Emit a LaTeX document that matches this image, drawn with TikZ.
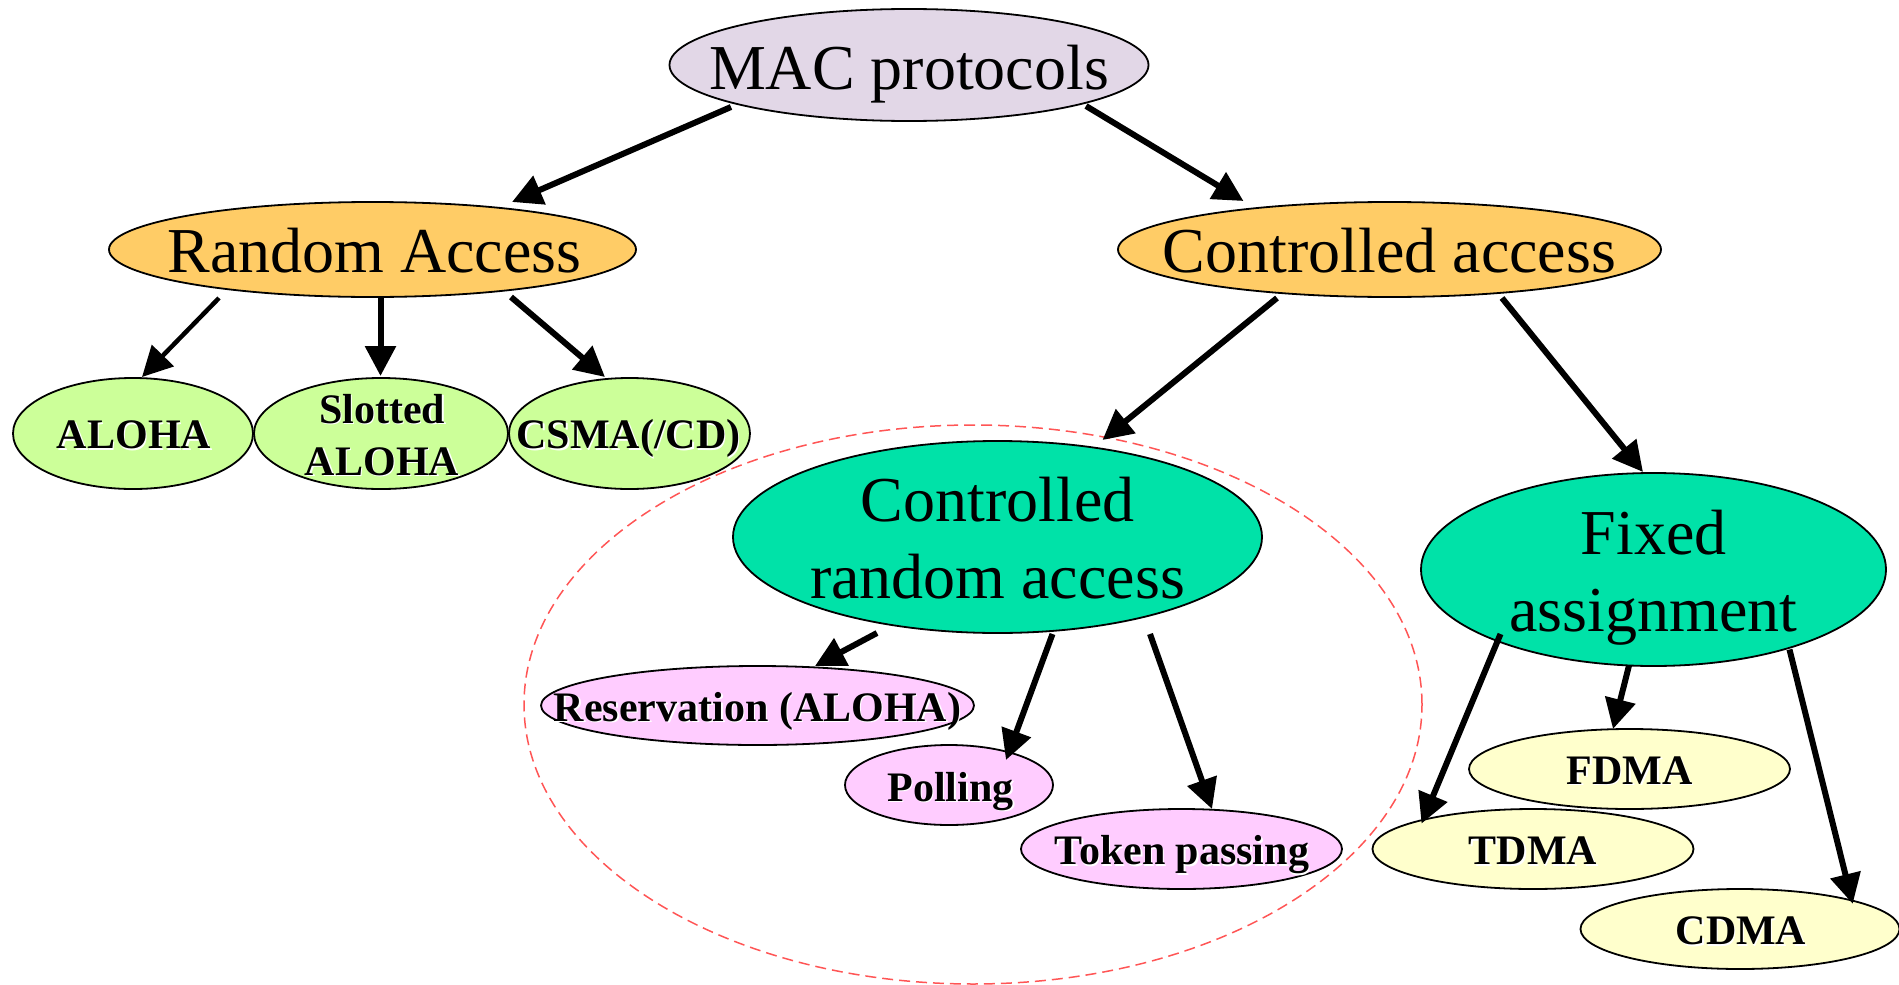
\documentclass[tikz,border=0pt]{standalone}
\usepackage{fontspec}
\setmainfont{Liberation Serif}
\usetikzlibrary{shapes.geometric,arrows.meta,calc}

\definecolor{macfill}{RGB}{226,215,231}
\definecolor{orangefill}{RGB}{255,204,102}
\definecolor{limefill}{RGB}{204,255,153}
\definecolor{tealfill}{RGB}{0,226,168}
\definecolor{pinkfill}{RGB}{255,204,255}
\definecolor{creamfill}{RGB}{255,255,204}
\definecolor{dashred}{RGB}{255,85,85}

% bold label with a thin white drop shadow
\newcommand\embtext[1]{\makebox[0pt][l]{\kern1.5pt\raisebox{-1.5pt}{\textcolor{white}{#1}}}#1}

\begin{document}
\begin{tikzpicture}[x=1pt,y=-1pt,
  oval/.style={ellipse, draw=black, line width=1.8pt, inner sep=0pt},
  bigtext/.style={font=\fontsize{64}{77}\selectfont, align=center, inner sep=0pt, anchor=base},
  smalltext/.style={font=\fontsize{42}{52}\selectfont\bfseries, align=center, inner sep=0pt, anchor=base},
  link/.style={-{Triangle[length=30pt,width=30pt]}, line width=6pt},
]
\useasboundingbox (0,0) rectangle (1899,985);

% top level
\node[oval, fill=macfill, minimum width=479, minimum height=112] (mac) at (909,65) {};
\node[bigtext] (mac-t) at ($(mac)+(0,24)$) {MAC protocols};

% second level
\node[oval, fill=orangefill, minimum width=527, minimum height=95] (ra) at (372.5,249.5) {};
\node[bigtext] (ra-t) at ($(ra)+(2,23)$) {Random Access};
\node[oval, fill=orangefill, minimum width=543, minimum height=95] (ca) at (1389.5,249.5) {};
\node[bigtext] (ca-t) at ($(ca)+(0,23)$) {Controlled access};

% random access family
\node[oval, fill=limefill, minimum width=240, minimum height=111] (aloha) at (133,433.5) {};
\node[smalltext] (aloha-t) at ($(aloha)+(1,15)$) {\embtext{ALOHA}};
\node[oval, fill=limefill, minimum width=254, minimum height=111] (slot) at (381,433.5) {};
\node[smalltext] (slot-t) at ($(slot)+(1,41.5)$) {\embtext{Slotted}\\\embtext{ALOHA}};
\node[oval, fill=limefill, minimum width=241, minimum height=111] (csma) at (629.5,433.5) {};
\node[smalltext] (csma-t) at ($(csma)+(-1,15)$) {\embtext{CSMA(/CD)}};

% controlled random access
\node[oval, fill=tealfill, minimum width=529, minimum height=192] (cra) at (997.5,537) {};
\node[bigtext] (cra-t) at ($(cra)+(0,61)$) {Controlled\\random access};
\node[oval, fill=pinkfill, minimum width=433, minimum height=79] (res) at (757.5,705.5) {};
\node[smalltext] (res-t) at ($(res)+(0,15.5)$) {\embtext{Reservation (ALOHA)}};
\node[oval, fill=pinkfill, minimum width=208, minimum height=80] (poll) at (949,785) {};
\node[smalltext] (poll-t) at ($(poll)+(1.5,16)$) {\embtext{Polling}};
\node[oval, fill=pinkfill, minimum width=321, minimum height=80] (tok) at (1181.5,849) {};
\node[smalltext] (tok-t) at ($(tok)+(0.5,15.5)$) {\embtext{Token passing}};

% fixed assignment
\node[oval, fill=tealfill, minimum width=465, minimum height=193] (fa) at (1653.5,569.5) {};
\node[bigtext] (fa-t) at ($(fa)+(0,61.5)$) {Fixed\\assignment};
\node[oval, fill=creamfill, minimum width=321, minimum height=80] (fdma) at (1629.5,769) {};
\node[smalltext] (fdma-t) at ($(fdma)+(0,15)$) {\embtext{FDMA}};
\node[oval, fill=creamfill, minimum width=321, minimum height=80] (tdma) at (1533,849) {};
\node[smalltext] (tdma-t) at ($(tdma)+(0,15.5)$) {\embtext{TDMA}};
\node[oval, fill=creamfill, minimum width=319, minimum height=80] (cdma) at (1740,929) {};
\node[smalltext] (cdma-t) at ($(cdma)+(1,15.7)$) {\embtext{CDMA}};

% dashed grouping around the controlled random access branch
\node[ellipse, draw=dashred, line width=1.5pt, dash pattern=on 11pt off 6pt,
      minimum width=898, minimum height=559, inner sep=0pt] (group) at (973,704.5) {};

% connectors
\draw[link] ($(mac)+(-178,42)$) -- ($(ra)+(139.5,-47.5)$);
\draw[link] ($(mac)+(177,41)$) -- ($(ca)+(-146,-48.5)$);
\draw[link, line width=4.5pt] ($(ra)+(-153.5,48.5)$) -- ($(aloha)+(9,-56.5)$);
\draw[link] ($(ra)+(8,48.5)$) -- ($(slot)+(-0.5,-57.5)$);
\draw[link] ($(ra)+(138.5,47.5)$) -- ($(csma)+(-24.5,-56.5)$);
\draw[link] ($(ca)+(-112.5,48.5)$) -- ($(cra)+(105,-97)$);
\draw[link] ($(ca)+(112.5,48.5)$) -- ($(fa)+(-10.5,-97.5)$);
\draw[link] ($(cra)+(-120.5,96)$) -- ($(res)+(57.5,-39.5)$);
\draw[link] ($(cra)+(55,97)$) -- ($(poll)+(57,-25)$);
\draw[link] ($(cra)+(152.5,97)$) -- ($(tok)+(30.5,-40)$);
\draw[link] ($(fa)+(-153,64.5)$) -- ($(tdma)+(-111.5,-25.4)$);
\draw[link] ($(fa)+(-24.5,96)$) -- ($(fdma)+(-16.5,-40)$);
\draw[link] ($(fa)+(136,80)$) -- ($(cdma)+(112.7,-25.2)$);
\end{tikzpicture}
\end{document}
